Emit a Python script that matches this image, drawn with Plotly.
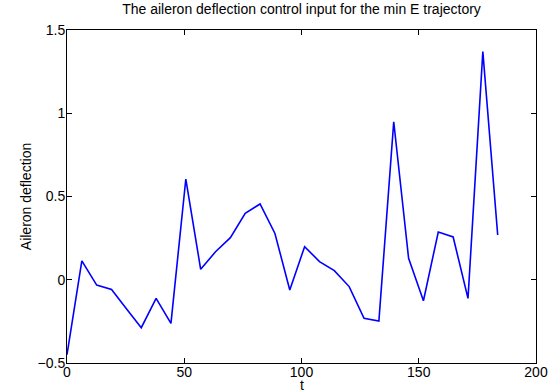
import plotly.graph_objects as go

# Time grid and aileron deflection control input (min E trajectory)
t = [0.0, 6.33, 12.67, 19.0, 25.33, 31.67, 38.0, 44.33, 50.67, 57.0,
     63.33, 69.67, 76.0, 82.33, 88.67, 95.0, 101.33, 107.67, 114.0, 120.33,
     126.67, 133.0, 139.33, 145.67, 152.0, 158.33, 164.67, 171.0, 177.33, 183.67]
aileron = [-0.45, 0.113, -0.032, -0.058, -0.174, -0.288, -0.112, -0.262, 0.605, 0.063,
           0.168, 0.253, 0.399, 0.455, 0.278, -0.062, 0.199, 0.109, 0.055, -0.041,
           -0.232, -0.248, 0.949, 0.129, -0.126, 0.287, 0.257, -0.112, 1.370, 0.269]

x_ticks = [0, 50, 100, 150, 200]
y_ticks = [-0.5, 0, 0.5, 1, 1.5]

font_family = "Liberation Sans, Arial, Helvetica, sans-serif"
W, H = 553, 391
label_font = dict(family=font_family, size=14, color="black")

fig = go.Figure(
    go.Scatter(x=t, y=aileron, mode="lines",
               line=dict(color="#0000ff", width=1.6), showlegend=False)
)

axis_common = dict(
    showgrid=False, zeroline=False, showline=True, mirror="ticks",
    linecolor="black", linewidth=1, ticks="inside", ticklen=5,
    tickcolor="black", tickwidth=1, automargin=False,
    tickfont=label_font,
)

fig.update_xaxes(range=[0, 200], tickvals=x_ticks, ticklabelstandoff=-4,
                 **axis_common)
fig.update_yaxes(range=[-0.5, 1.5], tickvals=y_ticks, ticklabelstandoff=-2,
                 title=dict(text="Aileron deflection", standoff=2, font=label_font),
                 **axis_common)

# x-axis label sits just under the tick labels, close to the bottom edge
fig.add_annotation(text="t", xref="paper", yref="paper", x=0.5, y=0,
                   xanchor="center", yanchor="top", yshift=-12,
                   showarrow=False, font=label_font)

fig.update_layout(
    width=W, height=H,
    margin=dict(l=67, r=17, t=30, b=28),
    paper_bgcolor="white", plot_bgcolor="white",
    title=dict(text="The aileron deflection control input for the min E trajectory",
               xref="paper", x=0.5, xanchor="center",
               yref="container", y=1 - 4 / H, yanchor="top",
               font=label_font),
)

fig.write_html("out.html")
